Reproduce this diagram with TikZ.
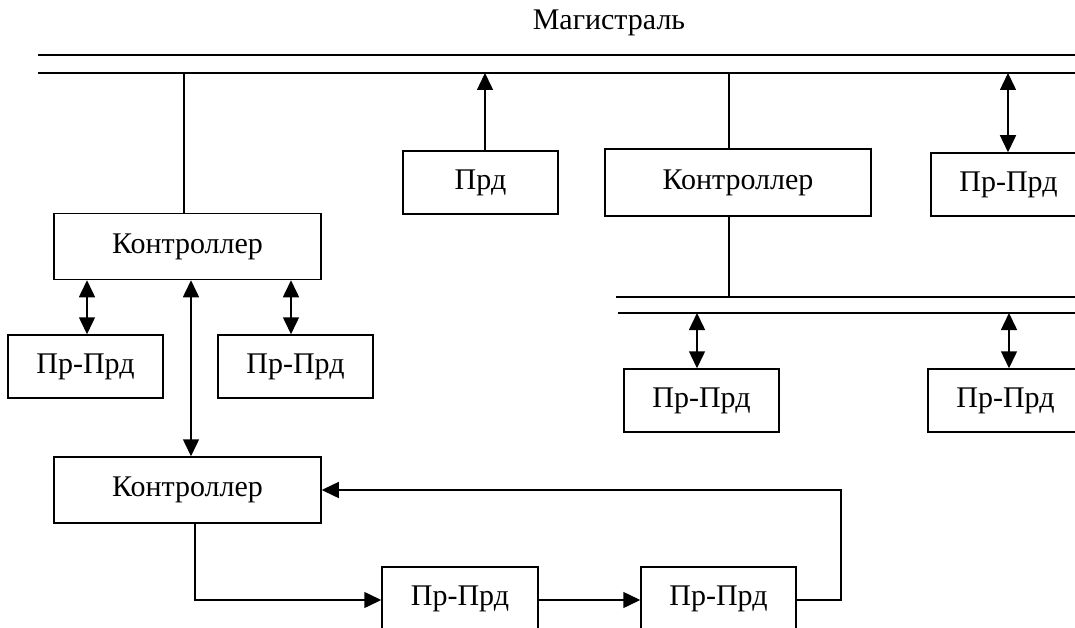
\documentclass[tikz,border=0pt]{standalone}
\usepackage{fontspec}
\setmainfont{Liberation Serif}
\usetikzlibrary{arrows.meta}
\begin{document}
\begin{tikzpicture}[x=1pt,y=-1pt,
  line width=1.5pt,
  label font/.style={font=\fontsize{30}{36}\selectfont},
  unit/.style={draw,rectangle,inner sep=0pt,minimum width=155pt,minimum height=63pt,label font},
  ctrl/.style={unit,minimum width=267pt,minimum height=66pt},
  tip/.tip={Triangle[length=17pt,width=16pt]},
  onearrow/.style={-tip},
  twoarrow/.style={tip-tip}]
\useasboundingbox (0,0) rectangle (1075,628);
\begin{scope}
\clip (0,0) rectangle (1075,628);

% main bus
\node[label font] (title) at (609,23) {Магистраль};
\coordinate (busTL) at (38,55);
\coordinate (busTR) at (1090,55);
\coordinate (busBL) at (38,73);
\coordinate (busBR) at (1090,73);
\draw (busTL) -- (busTR);
\draw (busBL) -- (busBR);

% local bus
\coordinate (lbusTL) at (616,297);
\coordinate (lbusTR) at (1090,297);
\coordinate (lbusBL) at (618,313);
\coordinate (lbusBR) at (1090,313);
\draw (lbusTL) -- (lbusTR);
\draw (lbusBL) -- (lbusBR);

% units
\node[ctrl] (ctrlA) at (187.5,246.5) {Контроллер};
\node[unit] (prA1) at (85.5,366.5) {Пр-Прд};
\node[unit] (prA2) at (295.5,366.5) {Пр-Прд};
\node[ctrl] (ctrlB) at (187.5,490) {Контроллер};
\node[unit,minimum width=156pt] (prB1) at (460,598.5) {Пр-Прд};
\node[unit] (prB2) at (718.5,598.5) {Пр-Прд};
\node[unit] (prd) at (480.5,182.5) {Прд};
\node[ctrl,minimum width=266pt,minimum height=67pt] (ctrlC) at (738,182.5) {Контроллер};
\node[unit] (prC) at (1008.5,184.5) {Пр-Прд};
\node[unit] (prD1) at (701.5,400.5) {Пр-Прд};
\node[unit] (prD2) at (1005.5,400.5) {Пр-Прд};

% vertical guides for the connectors
\coordinate (xA) at (184,0);
\coordinate (xA1) at (87,0);
\coordinate (xA2) at (291,0);
\coordinate (xAB) at (191,0);
\coordinate (xB) at (195,0);
\coordinate (xPrd) at (485,0);
\coordinate (xC) at (729,0);
\coordinate (xPrC) at (1008,0);
\coordinate (xD1) at (697,0);
\coordinate (xD2) at (1009,0);
\coordinate (yRing) at (0,600);
\coordinate (ringCorner) at (841,600);

% main bus connections
\draw (ctrlA.north -| xA) -- (busBL -| xA);
\draw[onearrow] (prd.north -| xPrd) -- (busBL -| xPrd);
\draw (ctrlC.north -| xC) -- (busBL -| xC);
\draw[twoarrow] (busBL -| xPrC) -- (prC.north -| xPrC);

% local bus connections
\draw (ctrlC.south -| xC) -- (lbusTL -| xC);
\draw[twoarrow] (lbusBL -| xD1) -- (prD1.north -| xD1);
\draw[twoarrow] (lbusBL -| xD2) -- (prD2.north -| xD2);

% first controller
\draw[twoarrow] (ctrlA.south -| xA1) -- (prA1.north -| xA1);
\draw[twoarrow] (ctrlA.south -| xA2) -- (prA2.north -| xA2);
\draw[twoarrow] (ctrlA.south -| xAB) -- (ctrlB.north -| xAB);

% ring of the second controller
\draw[onearrow] (ctrlB.south -| xB) -- (yRing -| xB) -- (prB1.west |- yRing);
\draw[onearrow] (prB1.east |- yRing) -- (prB2.west |- yRing);
\draw[onearrow] (prB2.east |- yRing) -- (ringCorner) -- (ringCorner |- ctrlB.east) -- (ctrlB.east);
\end{scope}
\end{tikzpicture}
\end{document}
